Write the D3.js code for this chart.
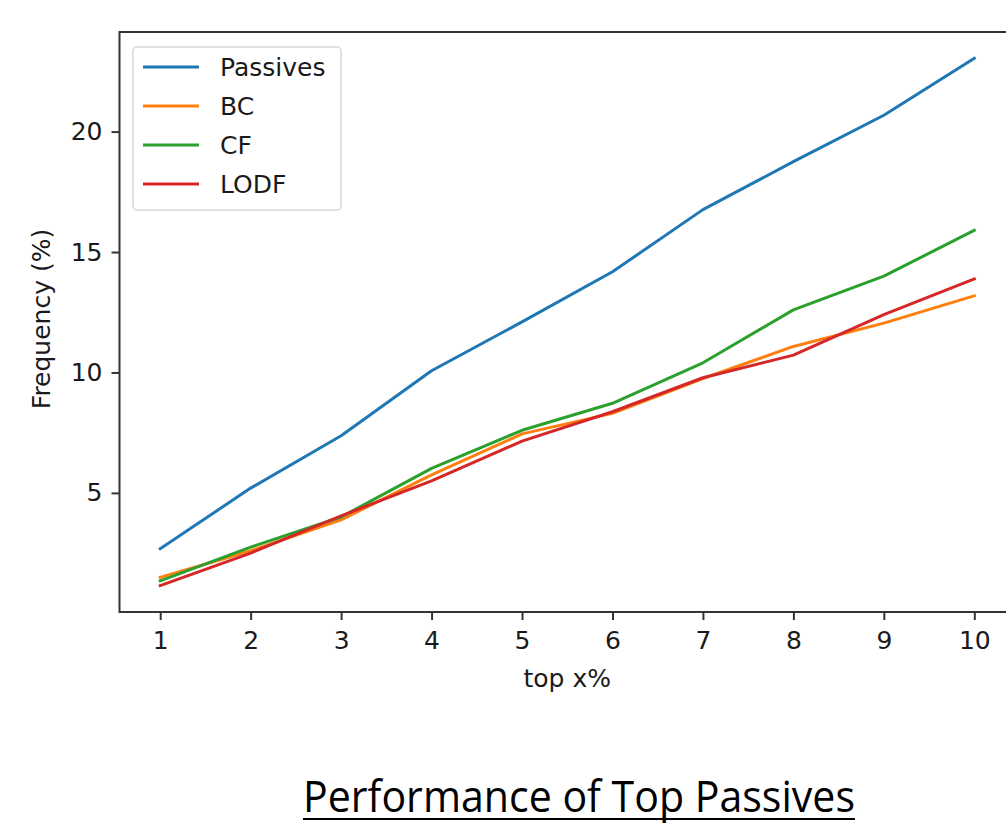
<!DOCTYPE html>
<html>
<head>
<meta charset="utf-8">
<script src="https://cdn.jsdelivr.net/npm/d3@7"></script>
<style>
  body { margin: 0; background: #fff; }
  text { font-family: "DejaVu Sans", sans-serif; fill: #1a1a1a; }
</style>
</head>
<body>
<div id="container"></div>
<script>
// data
let topX = [1, 2, 3, 4, 5, 6, 7, 8, 9, 10]
let passives = [2.68, 5.2, 7.37, 10.07, 12.1, 14.18, 16.76, 18.75, 20.68, 23.04]
let bc = [1.49, 2.6, 3.88, 5.75, 7.45, 8.3, 9.75, 11.08, 12.05, 13.18]
let cf = [1.35, 2.75, 4.0, 6.02, 7.6, 8.72, 10.4, 12.6, 14.0, 15.9]
let lodf = [1.15, 2.5, 4.05, 5.5, 7.15, 8.37, 9.78, 10.72, 12.4, 13.88]
let seriesNames = ['Passives', 'BC', 'CF', 'LODF']
let seriesColors = ['#1f77b4', '#ff7f0e', '#2ca02c', '#d62728']
let yTicks = [5, 10, 15, 20]
let chartTitle = 'Performance of Top Passives'

let width = 1006
let height = 824
let plot = {left: 119.5, right: 1015, top: 32, bottom: 612}
let fontSize = '25px'

let svg

function main() {
    createSVG()
    build()
}

function createSVG() {
    svg = d3.select('#container').append('svg')
      .attr('width', width)
      .attr('height', height)
}

// matplotlib style 5% padding
function padded(ext) {
    let span = ext[1] - ext[0]
    return [ext[0] - span * 0.05, ext[1] + span * 0.05]
}

function build() {
    let allSeries = [passives, bc, cf, lodf]
    let allVals = [].concat(...allSeries)

    const xScale = d3.scaleLinear()
      .domain(padded(d3.extent(topX)))
      .range([plot.left, plot.right])

    const yScale = d3.scaleLinear()
      .domain(padded(d3.extent(allVals)))
      .range([plot.bottom, plot.top])

    const xAxis = d3.axisBottom(xScale)
      .tickValues(topX)
      .tickFormat(d3.format('d'))
      .tickSize(8)
      .tickPadding(11)

    const yAxis = d3.axisLeft(yScale)
      .tickValues(yTicks)
      .tickSize(8)
      .tickPadding(9)

    let gx = svg.append('g')
      .attr('transform', `translate(0,${plot.bottom})`)
      .call(xAxis)
    let gy = svg.append('g')
      .attr('transform', `translate(${plot.left},0)`)
      .call(yAxis)

    for (let g of [gx, gy]) {
        g.select('.domain').remove()
        g.selectAll('line').attr('stroke', '#333').attr('stroke-width', 2)
        g.selectAll('text').style('font-size', fontSize).attr('fill', '#1a1a1a')
          .style('font-family', '"DejaVu Sans", sans-serif')
    }

    // lines
    let line = d3.line()
      .x((d, i) => xScale(topX[i]))
      .y(d => yScale(d))

    svg.append('g').selectAll('path')
      .data(allSeries)
      .enter()
      .append('path')
      .attr('d', d => line(d))
      .attr('fill', 'none')
      .attr('stroke', (d, i) => seriesColors[i])
      .attr('stroke-width', 3)
      .attr('stroke-linejoin', 'round')
      .attr('stroke-linecap', 'square')

    // frame
    svg.append('rect')
      .attr('x', plot.left)
      .attr('y', plot.top)
      .attr('width', plot.right - plot.left)
      .attr('height', plot.bottom - plot.top)
      .attr('fill', 'none')
      .attr('stroke', '#333')
      .attr('stroke-width', 2)

    // legend
    let legend = svg.append('g').attr('transform', 'translate(133,47)')
    legend.append('rect')
      .attr('width', 208)
      .attr('height', 163)
      .attr('rx', 4)
      .attr('fill', '#fff')
      .attr('fill-opacity', 0.8)
      .attr('stroke', '#d6d6d6')
      .attr('stroke-width', 1.5)

    let items = legend.selectAll('g.item')
      .data(seriesNames)
      .enter()
      .append('g')
      .attr('transform', (d, i) => `translate(0,${20 + i * 39})`)
    items.append('line')
      .attr('x1', 10).attr('x2', 66)
      .attr('stroke', (d, i) => seriesColors[i])
      .attr('stroke-width', 3)
    items.append('text')
      .attr('x', 87)
      .attr('dy', '0.36em')
      .style('font-size', fontSize)
      .text(d => d)

    // axis labels
    svg.append('text')
      .attr('x', (plot.left + plot.right) / 2)
      .attr('y', 687)
      .attr('text-anchor', 'middle')
      .style('font-size', fontSize)
      .text('top x%')

    svg.append('text')
      .attr('transform', `translate(50,319) rotate(-90)`)
      .attr('text-anchor', 'middle')
      .style('font-size', fontSize)
      .text('Frequency (%)')

    // slide title, underlined
    svg.append('text')
      .attr('x', 303)
      .attr('y', 812)
      .attr('textLength', 552)
      .attr('lengthAdjust', 'spacingAndGlyphs')
      .style('font-family', '"Open Sans", sans-serif')
      .style('font-size', '44px')
      .style('fill', '#000')
      .text(chartTitle)
    svg.append('line')
      .attr('x1', 303).attr('x2', 855)
      .attr('y1', 819).attr('y2', 819)
      .attr('stroke', '#000')
      .attr('stroke-width', 2)
}

main()
</script>
</body>
</html>
